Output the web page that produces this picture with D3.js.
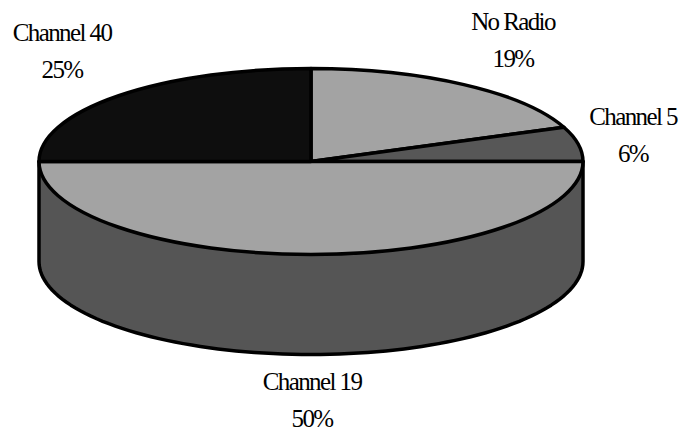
<!DOCTYPE html>
<html><head><meta charset="utf-8">
<script src="https://cdn.jsdelivr.net/npm/d3@7/dist/d3.min.js"></script>
<style>html,body{margin:0;padding:0;background:#fff}svg{display:block}
text{font-family:"Liberation Serif",serif;font-size:25px;letter-spacing:-1.6px;fill:#000;text-anchor:middle}</style>
</head><body><svg width="683" height="436"></svg>
<script>
const categories = ["No Radio","Channel 5","Channel 19","Channel 40"];
const percents = [19,6,50,25];
const topColors = ["#a3a3a3","#575757","#a3a3a3","#0e0e0e"];
const sideColor = "#555555";
const labelAnchors = [[513,30],[633,125],[312,390],[62,41]];

const W=683,H=436,cx=311,cy=161.5,rx=272,ry=93,depth=100;
const svg=d3.select("svg");
const pie=d3.pie().sort(null).value(d=>d)(percents);
const arc=d3.arc().innerRadius(0).outerRadius(rx);
const flat=ry/rx;

const sideAngles=d3.range(0,181,2).map(d=>d*Math.PI/180);
const sx=d3.scaleLinear().domain([-1,1]).range([cx-rx,cx+rx]);
const sy=d3.scaleLinear().domain([-1,1]).range([cy-ry,cy+ry]);
const lineGen=d3.line().x(d=>d[0]).y(d=>d[1]);
const lowerEdge=sideAngles.map(a=>[sx(Math.cos(a)),sy(Math.sin(a))+depth]);
const sidePts=[[sx(1),sy(0)],...lowerEdge,[sx(-1),sy(0)]];
svg.append("path").attr("d",lineGen(sidePts)+"Z")
  .attr("fill",sideColor).attr("stroke","#000").attr("stroke-width",3.5).attr("stroke-linejoin","round");

svg.append("g").attr("transform",`translate(${cx},${cy}) scale(1,${flat})`)
  .selectAll("path").data(pie).join("path")
  .attr("d",arc)
  .attr("fill",(d,i)=>topColors[i])
  .attr("stroke","#000").attr("stroke-width",3.5)
  .attr("stroke-linejoin","round")
  .attr("vector-effect","non-scaling-stroke");

const lab=svg.append("g").selectAll("text").data(categories).join("text")
  .attr("transform",(d,i)=>`translate(${labelAnchors[i][0]},${labelAnchors[i][1]})`);
lab.append("tspan").attr("x",0).attr("y",0).text(d=>d);
lab.append("tspan").attr("x",0).attr("y",37).text((d,i)=>percents[i]+"%");
</script></body></html>
